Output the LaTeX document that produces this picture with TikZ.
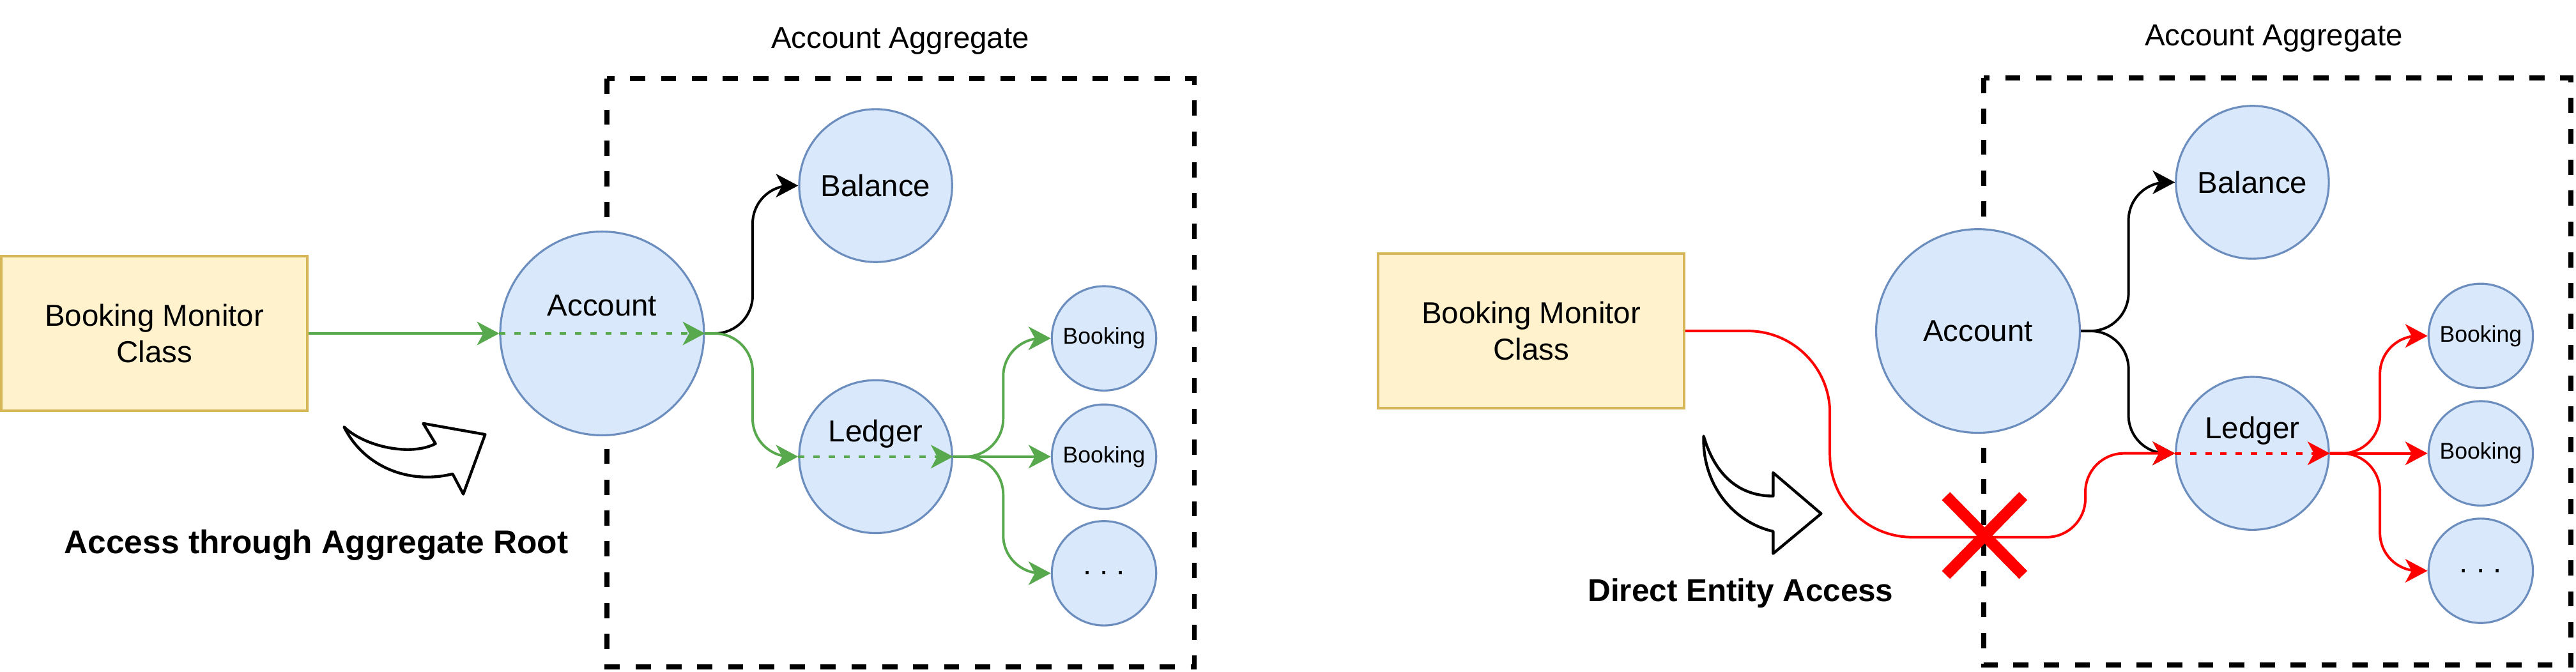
\documentclass[tikz,border=0pt]{standalone}
\usepackage{fontspec}
\setmainfont{Liberation Sans}
\usepackage{tikz}
\usetikzlibrary{arrows.meta}
\definecolor{noteyellow}{HTML}{FFF2CC}
\definecolor{noteborder}{HTML}{D6B656}
\definecolor{entityblue}{HTML}{DAE8FC}
\definecolor{entityborder}{HTML}{6C8EBF}
\definecolor{okgreen}{RGB}{88,168,78}
\definecolor{badred}{HTML}{FF0000}
\tikzset{
    classbox/.style={draw=noteborder, fill=noteyellow, line width=1pt, minimum width=121pt, minimum height=61pt, align=center, font=\fontsize{12}{14.4}\selectfont},
    entity/.style={circle, draw=entityborder, fill=entityblue, line width=0.8pt, inner sep=0pt, font=\fontsize{12}{14.4}\selectfont},
    bigent/.style={entity, minimum size=80.6pt},
    mident/.style={entity, minimum size=60.5pt},
    smallent/.style={entity, minimum size=41.3pt, font=\fontsize{9}{10.8}\selectfont},
    aggbox/.style={line width=2pt, dash pattern=on 6pt off 6.2pt},
    bodytext/.style={font=\fontsize{12}{14.4}\selectfont},
    notelabel/.style={font=\fontsize{13}{15.6}\selectfont\bfseries},
    arrowtip/.style={-{Stealth[length=8.8pt, width=9.3pt, inset=2.5pt]}},
    link/.style={arrowtip, line width=1pt, rounded corners=15pt},
    passline/.style={arrowtip, line width=1pt, dash pattern=on 2.5pt off 3.5pt},
    bigarrow/.style={line width=1.1pt, line join=round, fill=white}
}

\begin{document}
\begin{tikzpicture}[x=0.65pt, y=-0.65pt]
            \useasboundingbox (0,0) rectangle (1568,409);

            %aggregate frames
            \draw[aggbox] (369.5,48) rectangle (727,406);
            \draw[aggbox] (1207.5,47.5) rectangle (1565,405);
            \node[bodytext] (aggL) at (548,25) {Account Aggregate};
            \node[bodytext] (aggR) at (1384,23.5) {Account Aggregate};

            %left: access through the root
            \node[classbox] (bmcL) at (94,203) {Booking Monitor\\Class};
            \node[bigent] (accL) at (366.5,203) {};
            \node[bodytext, anchor=base] (accLtext) at (366.5,192.5) {Account};
            \node[mident] (balL) at (533,113) {Balance};
            \node[mident] (ldgL) at (533,278) {};
            \node[bodytext, anchor=base] (ldgLtext) at (533,269) {Ledger};
            \node[smallent] (bk1L) at (672,206) {Booking};
            \node[smallent] (bk2L) at (672,278) {Booking};
            \node[smallent, bodytext] (bk3L) at (672,349) {.\ .\ .};

            %right: direct access
            \node[classbox] (bmcR) at (932,201.5) {Booking Monitor\\Class};
            \node[bigent] (accR) at (1204,201.5) {Account};
            \node[mident] (balR) at (1371,111) {Balance};
            \node[mident] (ldgR) at (1371,276) {};
            \node[bodytext, anchor=base] (ldgRtext) at (1371,267) {Ledger};
            \node[smallent] (bk1R) at (1510,204.5) {Booking};
            \node[smallent] (bk2R) at (1510,276) {Booking};
            \node[smallent, bodytext] (bk3R) at (1510,347.5) {.\ .\ .};

            %big curved arrows and captions
            \draw[bigarrow] (209.4,259.9) .. controls (222,272) and (250,278) .. (265.1,270.1) -- (257.6,257.8) -- (295.3,264.5) -- (282,300.8) -- (275.5,288.5) .. controls (250,295) and (222,285) .. (209.4,259.9) -- cycle;
            \draw[bigarrow] (1037,265.5) .. controls (1036,295) and (1055,318) .. (1079.3,323.5) -- (1079.3,337) -- (1108.5,312.7) -- (1079.3,287.8) -- (1079.3,302) .. controls (1062,302) and (1045,293) .. (1037,265.5) -- cycle;
            \node[notelabel] (capL) at (192.5,332) {Access through Aggregate Root};
            \node[notelabel, font=\fontsize{12.5}{15}\selectfont\bfseries] (capR) at (1059.5,361) {Direct Entity Access};

            %left edges
            \draw[link, okgreen] (bmcL.east) -- (accL.west);
            \draw[passline, okgreen] (accL.west) -- (accL.east);
            \draw[link] (accL.east) -- ++(29,0) |- (balL.west);
            \draw[link, okgreen] (accL.east) -- ++(29,0) |- (ldgL.west);
            \draw[passline, okgreen] (ldgL.west) -- (ldgL.east);
            \draw[link, okgreen] (ldgL.east) -- ++(30.5,0) |- (bk1L.west);
            \draw[link, okgreen] (ldgL.east) -- (bk2L.west);
            \draw[link, okgreen] (ldgL.east) -- ++(30.5,0) |- (bk3L.west);

            %right edges
            \draw[link] (accR.east) -- ++(29,0) |- (balR.west);
            \draw[link] (accR.east) -- ++(29,0) |- (ldgR.west);
            \draw[arrowtip, line width=1pt, badred] (bmcR.east) -- ++(38,0)
                .. controls +(27.6,0) and +(0,-27.6) .. ++(50,50) -- ++(0,25.5)
                .. controls +(0,27.6) and +(-27.6,0) .. ++(50,50) -- ++(82,0)
                .. controls +(13,0) and +(0,13) .. ++(23.5,-23.5) -- ++(0,-4)
                .. controls +(0,-13) and +(-13,0) .. ++(23.5,-23.5) -- (ldgR.west);
            \draw[passline, badred] (ldgR.west) -- (ldgR.east);
            \draw[link, badred] (ldgR.east) -- ++(30.5,0) |- (bk1R.west);
            \draw[link, badred] (ldgR.east) -- (bk2R.west);
            \draw[link, badred] (ldgR.east) -- ++(30.5,0) |- (bk3R.west);

            %blocked crossing
            \coordinate (crossR) at (1208,326);
            \draw[badred, line width=4.5pt] (crossR) ++(-23.5,-24) -- ++(47,48) ++(0,-48) -- ++(-47,48);
\end{tikzpicture}
\end{document}
